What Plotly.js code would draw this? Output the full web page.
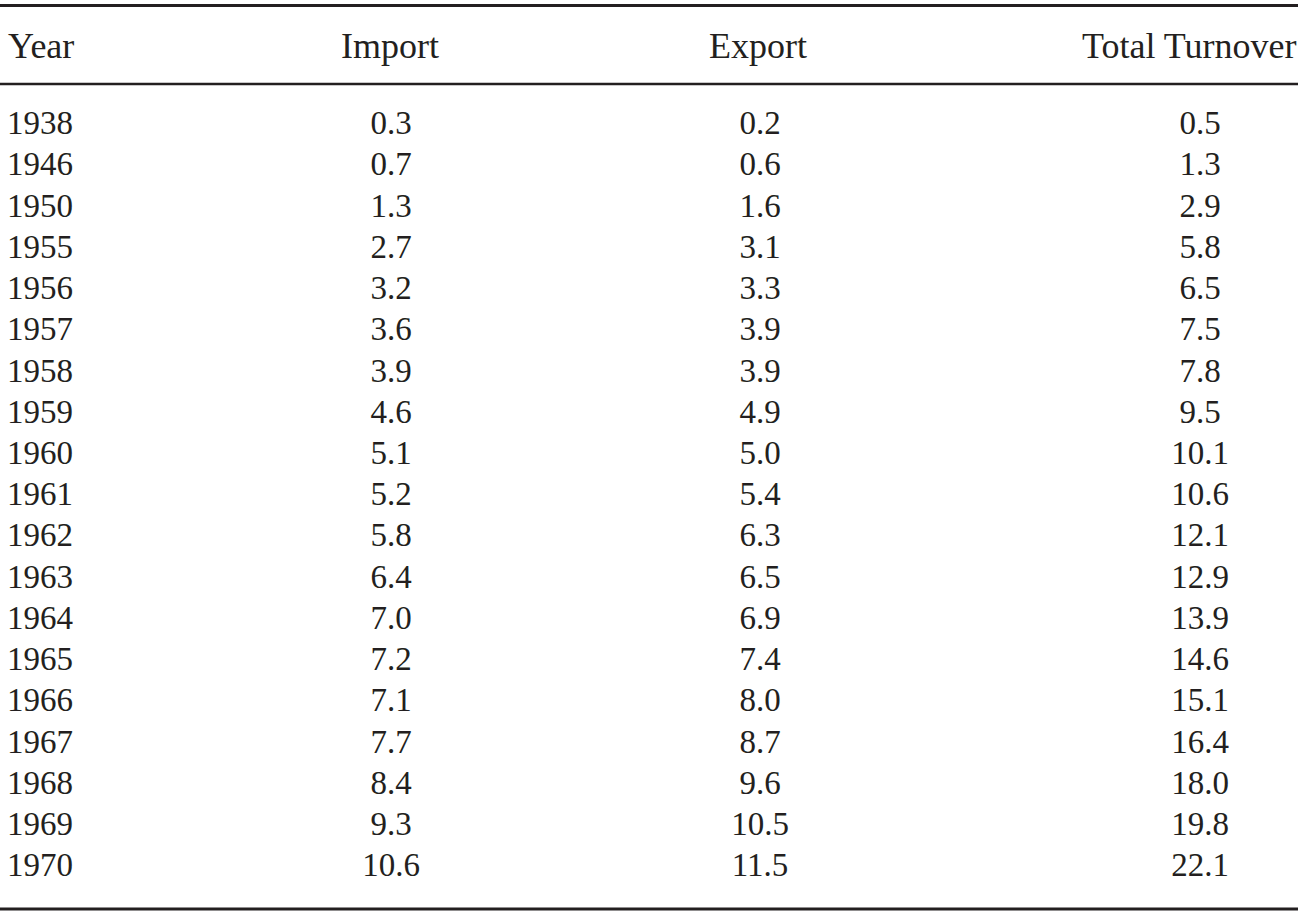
<!DOCTYPE html>
<html><head><meta charset="utf-8">
<script src="https://cdn.plot.ly/plotly-3.0.1.min.js"></script>
<style>html,body{margin:0;padding:0;background:#fff}#chart{width:1303px;height:913px}</style>
</head><body><div id="chart"></div>
<script>
const headers = ['Year', 'Import', 'Export', 'Total Turnover'];
const years = ['1938','1946','1950','1955','1956','1957','1958','1959','1960','1961','1962','1963','1964','1965','1966','1967','1968','1969','1970'];
const importVals = [0.3,0.7,1.3,2.7,3.2,3.6,3.9,4.6,5.1,5.2,5.8,6.4,7.0,7.2,7.1,7.7,8.4,9.3,10.6];
const exportVals = [0.2,0.6,1.6,3.1,3.3,3.9,3.9,4.9,5.0,5.4,6.3,6.5,6.9,7.4,8.0,8.7,9.6,10.5,11.5];
const totalVals = [0.5,1.3,2.9,5.8,6.5,7.5,7.8,9.5,10.1,10.6,12.1,12.9,13.9,14.6,15.1,16.4,18.0,19.8,22.1];

const W = 1303, H = 913;
const FAMILY = '"Liberation Serif", "DejaVu Serif", serif';
const FONT = {family: FAMILY, size: 33, color: '#231f20'};
const HFONT = {family: FAMILY, size: 36, color: '#231f20'};
const fmt = v => v.toFixed(1);

function col(axis, name, texts, pos) {
  return {
    type: 'scatter', mode: 'text', xaxis: axis, yaxis: 'y',
    x: years.map(() => name), y: years, text: texts,
    textposition: pos, textfont: FONT, hoverinfo: 'skip', cliponaxis: false
  };
}
const data = [
  col('x', headers[0], years, 'middle right'),
  col('x2', headers[1], importVals.map(fmt), 'middle center'),
  col('x3', headers[2], exportVals.map(fmt), 'middle center'),
  col('x4', headers[3], totalVals.map(fmt), 'middle center')
];

function dom(c, half) { return [(c - half) / W, (c + half) / W]; }
const hidden = {type: 'category', visible: false, showgrid: false, zeroline: false, fixedrange: true};
const layout = {
  width: W, height: H, margin: {l: 0, r: 0, t: 0, b: 0},
  paper_bgcolor: '#fff', plot_bgcolor: '#fff', showlegend: false, hovermode: false,
  xaxis: Object.assign({}, hidden, {domain: [7 / W, 150 / W], range: [0, 1]}),
  xaxis2: Object.assign({}, hidden, {domain: dom(391, 60), range: [-0.5, 0.5], anchor: 'y'}),
  xaxis3: Object.assign({}, hidden, {domain: dom(760, 60), range: [-0.5, 0.5], anchor: 'y'}),
  xaxis4: Object.assign({}, hidden, {domain: dom(1200, 60), range: [-0.5, 0.5], anchor: 'y'}),
  yaxis: Object.assign({}, hidden, {categoryorder: 'array', categoryarray: years, range: [19.091, -3.057], domain: [0, 1]}),
  annotations: [
    {text: headers[0], x: 6 / W, xanchor: 'left'},
    {text: headers[1], x: 390 / W, xanchor: 'center'},
    {text: headers[2], x: 758 / W, xanchor: 'center'},
    {text: headers[3], x: 1299 / W, xanchor: 'right'}
  ].map(a => Object.assign(a, {xref: 'paper', yref: 'paper', y: 1 - 46 / H, yanchor: 'middle', showarrow: false, font: HFONT})),
  shapes: [5.5, 84, 909].map(py => ({
    type: 'line', xref: 'paper', yref: 'paper', x0: 0, x1: 1298 / W,
    y0: 1 - py / H, y1: 1 - py / H, line: {color: '#231f20', width: py === 84 ? 2.5 : 3}
  }))
};
Plotly.newPlot('chart', data, layout, {displayModeBar: false, staticPlot: true});
</script></body></html>
